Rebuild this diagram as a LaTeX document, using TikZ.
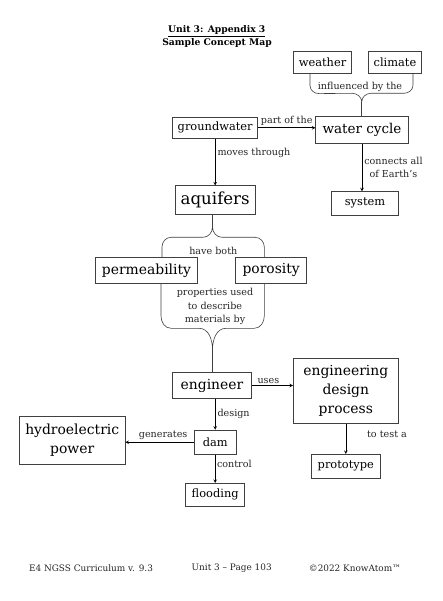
\documentclass[tikz,border=0pt]{standalone}
\usepackage{fontspec}
\setmainfont{DejaVu Serif}
\usetikzlibrary{arrows,positioning}

\begin{document}
\begin{tikzpicture}[->,>=stealth, x=1pt, y=-1pt, line width=0.6pt,
concept/.style={draw=black!75, inner sep=0pt, font=\fontsize{11.4}{13}\selectfont},
bigconcept/.style={concept, align=center, font=\fontsize{13.9}{19}\selectfont},
linklabel/.style={inner sep=2pt, font=\fontsize{9.6}{13.5}\selectfont, text=black!85}]

\useasboundingbox (0,0) rectangle (442,601);

% title
\node (title) at (216.7,31) {\fontsize{9.2}{11}\selectfont\bfseries\underline{Unit 3: Appendix 3}};
\node (subtitle) at (217,43) {\fontsize{9.2}{11}\selectfont\bfseries Sample Concept Map};

% water cycle part
\node [concept, minimum width=58.4pt, minimum height=21.6pt] (weather) at (322.5,62.5) {weather};
\node [concept, minimum width=53.4pt, minimum height=21.6pt] (climate) [right of=weather, node distance=72.5pt] {climate};
\node [concept, minimum width=85pt, minimum height=21pt] (groundwater) at (215.2,127.8) {groundwater};
\node [bigconcept, font=\fontsize{13.5}{16}\selectfont, minimum width=92.6pt, minimum height=26.6pt] (watercycle) at (362,130) {water cycle};
\path (groundwater.east) edge node [linklabel, above] {part of the} (groundwater.east -| watercycle.west);

\node [bigconcept, font=\fontsize{16.6}{19}\selectfont, minimum width=80.5pt, minimum height=29pt] (aquifers) [below of=groundwater, node distance=72.5pt] {aquifers};
\path (groundwater) edge node [linklabel, right, pos=0.31] {moves through} (aquifers);

\node [concept, minimum width=66.6pt, minimum height=23.3pt] (system) at (365,203.3) {system};
\path (watercycle.south) edge node [linklabel, right, align=center, pos=0.5] {connects all\\of Earth's} (watercycle.south |- system.north);

% brace under weather and climate
\coordinate (tip1) at (361.7,102);
\draw [-, draw=black!75] ([xshift=-12.5pt]weather.south) -- ++(0,12) to [out=-90,in=180] ++(9,8) -- (352,93.3)
  to [out=0,in=90] (tip1) to [out=90,in=180] (371,93.3) -- (404,93.3)
  to [out=0,in=-90] ([xshift=18pt]climate.south |- 0,85) -- ([xshift=18pt]climate.south);
\draw [-, draw=black!75] (tip1) -- (watercycle.north -| tip1);
\node [linklabel] (influenced) at (360,86.7) {influenced by the};

% properties
\node [bigconcept, minimum width=101.6pt, minimum height=26pt] (permeability) at (146.5,270.3) {permeability};
\node [bigconcept, minimum width=71pt, minimum height=26pt] (porosity) [right of=permeability, node distance=124.7pt] {porosity};

\coordinate (tip2) at (212.5,227);
\draw [-, draw=black!75] (tip2) -- (tip2 |- aquifers.south);
\draw [-, draw=black!75] (permeability.north -| 162,0) -- (162,247) to [out=90,in=180] (171,237.3) -- (203,237.3)
  to [out=0,in=-90] (tip2) to [out=-90,in=180] (222,237.3) -- (255,237.3)
  to [out=0,in=90] (264.3,247) -- (porosity.north -| 264.3,0);
\node [linklabel] (haveboth) at (213.3,250.7) {have both};

\node [bigconcept, minimum width=79.4pt, minimum height=25.6pt] (engineer) at (212,385.5) {engineer};

\coordinate (tip3) at (212.5,350);
\draw [-, draw=black!75] (permeability.south -| 161,0) -- (161,316) to [out=-90,in=180] (171,328.3) -- (199,328.3)
  to [out=0,in=90] (tip3) to [out=90,in=180] (226,328.3) -- (254.3,328.3)
  to [out=0,in=-90] (264.3,316) -- (porosity.south -| 264.3,0);
\draw [-, draw=black!75] (tip3) -- (engineer.north -| tip3);
\node [linklabel, align=center] (describe) at (215,306.7) {properties used\\to describe\\materials by};

% engineering
\node [bigconcept, minimum width=105pt, minimum height=65pt] (design) at (345.8,390.8) {engineering\\design\\process};
\path (engineer.east) edge node [linklabel, above, pos=0.4] {uses} (engineer.east -| design.west);

\node [concept, minimum width=41.7pt, minimum height=24.3pt] (dam) [below of=engineer, node distance=56.7pt, xshift=3.2pt] {dam};
\path (engineer.south -| dam) edge node [linklabel, right, pos=0.5] {design} (dam);

\node [bigconcept, minimum width=105.7pt, minimum height=47.3pt] (hydro) at (72.2,440.3) {hydroelectric\\power};
\path (dam.west) edge node [linklabel, above, pos=0.45] {generates} (dam.west -| hydro.east);

\node [concept, minimum width=59pt, minimum height=22.7pt] (flooding) [below of=dam, node distance=52.5pt] {flooding};
\path (dam) edge node [linklabel, right, pos=0.34, inner sep=1.5pt] {control} (dam |- flooding.north);

\node [concept, minimum width=68.3pt, minimum height=24pt] (prototype) [below of=design, node distance=75.5pt] {prototype};
\path (design) edge node [linklabel, right, pos=0.35, xshift=19pt] {to test a} (prototype);

% footer
\node [linklabel, font=\fontsize{8.9}{11}\selectfont] (curriculum) at (91,568.3) {E4 NGSS Curriculum v. 9.3};
\node [linklabel, font=\fontsize{8.9}{11}\selectfont] (page) at (231.7,568.3) {Unit 3 – Page 103};
\node [linklabel, font=\fontsize{8.9}{11}\selectfont] (copyright) at (355,568.3) {©2022 KnowAtom™};

\end{tikzpicture}
\end{document}
